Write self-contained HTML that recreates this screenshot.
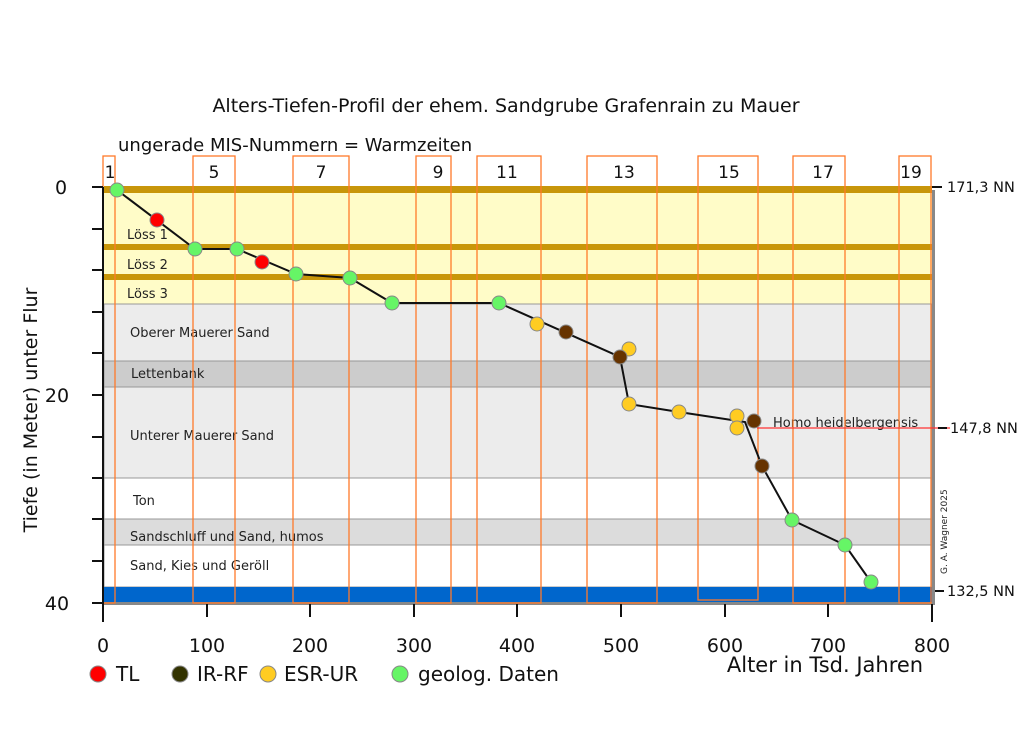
<!DOCTYPE html>
<html><head><meta charset="utf-8"><style>body{margin:0;background:#fff}svg{display:block}text{font-family:"DejaVu Sans","Liberation Sans",sans-serif}</style></head><body>
<svg width="1024" height="752" viewBox="0 0 1024 752" xmlns="http://www.w3.org/2000/svg">
<text x="506" y="112" font-size="19" text-anchor="middle" fill="#111">Alters-Tiefen-Profil der ehem. Sandgrube Grafenrain zu Mauer</text>
<text x="118" y="151" font-size="18" fill="#111">ungerade MIS-Nummern = Warmzeiten</text>
<!-- layers -->
<rect x="104" y="186" width="828" height="118" fill="#fffcc8"/>
<rect x="104" y="186" width="828" height="7" fill="#c8960a"/>
<rect x="104" y="244" width="828" height="6" fill="#c8960a"/>
<rect x="104" y="274" width="828" height="6" fill="#c8960a"/>
<rect x="104" y="304" width="828" height="57" fill="#ececec" stroke="#999" stroke-width="1"/>
<rect x="104" y="361" width="828" height="26" fill="#cccccc" stroke="#999" stroke-width="1"/>
<rect x="104" y="387" width="828" height="91" fill="#ececec" stroke="#999" stroke-width="1"/>
<rect x="104" y="478" width="828" height="41" fill="#fff" stroke="#999" stroke-width="1"/>
<rect x="104" y="519" width="828" height="26" fill="#dcdcdc" stroke="#999" stroke-width="1"/>
<rect x="104" y="545" width="828" height="42" fill="#fff" stroke="#999" stroke-width="1"/>
<rect x="104" y="587" width="828" height="15" fill="#0066cc"/>
<rect x="932" y="190" width="3" height="414" fill="#888"/>
<rect x="104" y="602" width="831" height="3" fill="#888"/>
<g font-size="13" fill="#222">
<text x="127" y="239">Löss 1</text><text x="127" y="269">Löss 2</text><text x="127" y="298">Löss 3</text>
<text x="130" y="337">Oberer  Mauerer Sand</text><text x="131" y="378">Lettenbank</text>
<text x="130" y="440">Unterer Mauerer Sand</text><text x="133" y="505">Ton</text>
<text x="130" y="541">Sandschluff und Sand, humos</text><text x="130" y="570">Sand, Kies und Geröll</text>
<text x="773" y="427">Homo heidelbergensis</text>
</g>
<!-- MIS boxes -->
<g fill="none" stroke="#ff7a2a" stroke-width="1.3">
<rect x="103" y="156" width="12" height="447"/><rect x="193" y="156" width="42" height="447"/>
<rect x="293" y="156" width="56" height="447"/><rect x="416" y="156" width="35" height="447"/>
<rect x="477" y="156" width="64" height="447"/><rect x="587" y="156" width="70" height="447"/>
<rect x="698" y="156" width="60" height="444"/><rect x="793" y="156" width="52" height="447"/>
<rect x="899" y="156" width="32" height="447"/>
</g>
<g font-size="17" fill="#111" text-anchor="middle">
<text x="110" y="178">1</text><text x="214" y="178">5</text><text x="321" y="178">7</text><text x="438" y="178">9</text>
<text x="507" y="178">11</text><text x="624" y="178">13</text><text x="729" y="178">15</text><text x="823" y="178">17</text><text x="911" y="178">19</text>
</g>
<line x1="757" y1="428" x2="950" y2="428" stroke="#f33" stroke-width="1.2"/>
<polyline fill="none" stroke="#111" stroke-width="2" points="117,190 195,249 237,249 296,274 350,278 392,303 499,303 620,357 629,404 679,412 745,422 762,466 792,520 845,545 871,582"/>
<g stroke="#888" stroke-width="1">
<circle cx="117" cy="190" r="7" fill="#66f566"/><circle cx="157" cy="220" r="7" fill="#f00"/>
<circle cx="195" cy="249" r="7" fill="#66f566"/><circle cx="237" cy="249" r="7" fill="#66f566"/>
<circle cx="262" cy="262" r="7" fill="#f00"/><circle cx="296" cy="274" r="7" fill="#66f566"/>
<circle cx="350" cy="278" r="7" fill="#66f566"/><circle cx="392" cy="303" r="7" fill="#66f566"/>
<circle cx="499" cy="303" r="7" fill="#66f566"/><circle cx="537" cy="324" r="7" fill="#ffcc22"/>
<circle cx="566" cy="332" r="7" fill="#663300"/><circle cx="629" cy="349" r="7" fill="#ffcc22"/>
<circle cx="620" cy="357" r="7" fill="#663300"/><circle cx="629" cy="404" r="7" fill="#ffcc22"/>
<circle cx="679" cy="412" r="7" fill="#ffcc22"/><circle cx="737" cy="416" r="7" fill="#ffcc22"/>
<circle cx="754" cy="421" r="7" fill="#663300"/><circle cx="737" cy="428" r="7" fill="#ffcc22"/>
<circle cx="762" cy="466" r="7" fill="#663300"/><circle cx="792" cy="520" r="7" fill="#66f566"/>
<circle cx="845" cy="545" r="7" fill="#66f566"/><circle cx="871" cy="582" r="7" fill="#66f566"/>
</g>
<g stroke="#111" stroke-width="2">
<line x1="103" y1="187" x2="103" y2="604"/>
<line x1="92" y1="187" x2="103" y2="187"/><line x1="92" y1="229" x2="103" y2="229"/><line x1="92" y1="270" x2="103" y2="270"/><line x1="92" y1="312" x2="103" y2="312"/><line x1="92" y1="353" x2="103" y2="353"/><line x1="92" y1="395" x2="103" y2="395"/><line x1="92" y1="437" x2="103" y2="437"/><line x1="92" y1="478" x2="103" y2="478"/><line x1="92" y1="519" x2="103" y2="519"/><line x1="92" y1="561" x2="103" y2="561"/><line x1="92" y1="603" x2="103" y2="603"/>
<line x1="103" y1="604" x2="103" y2="622"/><line x1="207" y1="604" x2="207" y2="617"/><line x1="310" y1="604" x2="310" y2="617"/><line x1="414" y1="604" x2="414" y2="617"/><line x1="517" y1="604" x2="517" y2="617"/><line x1="621" y1="604" x2="621" y2="617"/><line x1="725" y1="604" x2="725" y2="617"/><line x1="828" y1="604" x2="828" y2="617"/><line x1="932" y1="604" x2="932" y2="622"/>
<line x1="932" y1="187" x2="942" y2="187"/><line x1="938" y1="428" x2="947" y2="428"/><line x1="935" y1="591" x2="944" y2="591"/>
</g>
<g font-size="19" fill="#111" text-anchor="middle">
<text x="61" y="194">0</text><text x="57" y="402">20</text><text x="57" y="610">40</text>
<text x="103" y="652">0</text><text x="207" y="652">100</text><text x="310" y="652">200</text><text x="414" y="652">300</text><text x="517" y="652">400</text><text x="621" y="652">500</text><text x="725" y="652">600</text><text x="828" y="652">700</text><text x="932" y="652">800</text>
</g>
<text x="825" y="672" font-size="21" fill="#111" text-anchor="middle">Alter in Tsd. Jahren</text>
<text transform="translate(37,410) rotate(-90)" font-size="19" fill="#111" text-anchor="middle">Tiefe (in Meter) unter Flur</text>
<g font-size="14.5" fill="#111"><text x="947" y="192">171,3 NN</text><text x="950" y="433">147,8 NN</text><text x="947" y="596">132,5 NN</text></g>
<text transform="translate(947,574) rotate(-90)" font-size="9" fill="#222">G. A. Wagner 2025</text>
<g stroke="#888" stroke-width="1">
<circle cx="98" cy="674" r="8" fill="#f00"/><circle cx="180" cy="674" r="8" fill="#333300"/>
<circle cx="268" cy="674" r="8" fill="#ffcc22"/><circle cx="400" cy="674" r="8" fill="#66f566"/>
</g>
<g font-size="20" fill="#111"><text x="116" y="681">TL</text><text x="197" y="681">IR-RF</text><text x="284" y="681">ESR-UR</text><text x="418" y="681">geolog. Daten</text></g>
</svg>
</body></html>
